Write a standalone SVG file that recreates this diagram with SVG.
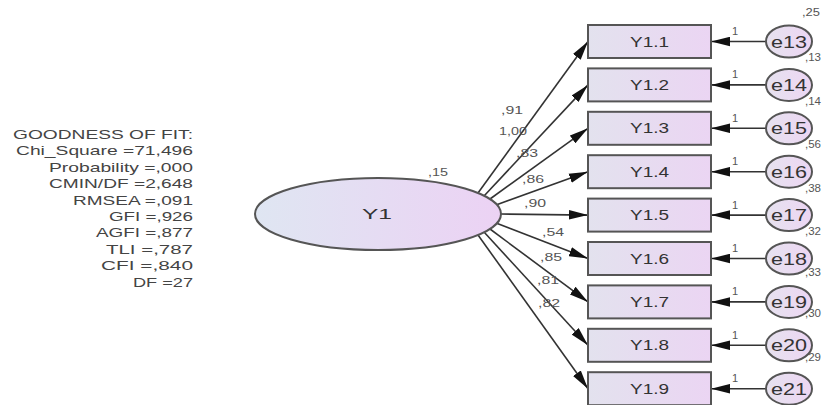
<svg xmlns="http://www.w3.org/2000/svg" width="822" height="405" viewBox="0 0 822 405">
<defs>
<linearGradient id="gRect" x1="0" x2="1" y1="0" y2="0"><stop offset="0" stop-color="#e3e2ee"/><stop offset="1" stop-color="#ebd5f3"/></linearGradient>
<linearGradient id="gMain" x1="0" x2="1" y1="0" y2="0"><stop offset="0" stop-color="#dfe6f2"/><stop offset="1" stop-color="#ecd2f4"/></linearGradient>
<linearGradient id="gErr" x1="0" x2="1" y1="0" y2="0"><stop offset="0" stop-color="#e6e2ef"/><stop offset="1" stop-color="#edd6f3"/></linearGradient>
<marker id="ah" viewBox="0 0 20 10" refX="20" refY="5" markerWidth="19" markerHeight="10" markerUnits="userSpaceOnUse" orient="auto"><path d="M0,0 L20,5 L0,10 z" fill="#111"/></marker>
<style>
.box{fill:url(#gRect);stroke:#555;stroke-width:2}
.err{fill:url(#gErr);stroke:#555;stroke-width:2}
.main{fill:url(#gMain);stroke:#555;stroke-width:2}
.t{font-family:"Liberation Sans",Arial,sans-serif;fill:#333}
.node{font-size:14px;text-anchor:middle}
.etx{font-size:17px;text-anchor:middle}
.fit{font-size:13.5px;text-anchor:end;fill:#444}
.sm{font-size:11px;fill:#555}
.edge{stroke:#333;stroke-width:1.6;fill:none;marker-end:url(#ah)}
</style>
</defs>
<rect width="822" height="405" fill="#fff"/>

<g id="fit">
<text class="t fit" x="193" y="139" textLength="180" lengthAdjust="spacingAndGlyphs">GOODNESS OF FIT:</text>
<text class="t fit" x="193" y="155.4" textLength="177" lengthAdjust="spacingAndGlyphs">Chi_Square =71,496</text>
<text class="t fit" x="193" y="171.8" textLength="144" lengthAdjust="spacingAndGlyphs">Probability =,000</text>
<text class="t fit" x="193" y="188.2" textLength="144" lengthAdjust="spacingAndGlyphs">CMIN/DF =2,648</text>
<text class="t fit" x="193" y="204.6" textLength="120" lengthAdjust="spacingAndGlyphs">RMSEA =,091</text>
<text class="t fit" x="193" y="221" textLength="84" lengthAdjust="spacingAndGlyphs">GFI =,926</text>
<text class="t fit" x="193" y="237.4" textLength="97" lengthAdjust="spacingAndGlyphs">AGFI =,877</text>
<text class="t fit" x="193" y="253.8" textLength="87" lengthAdjust="spacingAndGlyphs">TLI =,787</text>
<text class="t fit" x="193" y="270.2" textLength="92" lengthAdjust="spacingAndGlyphs">CFI =,840</text>
<text class="t fit" x="193" y="286.6" textLength="60" lengthAdjust="spacingAndGlyphs">DF =27</text>
</g>

<g id="connectors">
<line class="edge" x1="478" y1="193" x2="588" y2="41.5"/>
<line class="edge" x1="484" y1="196" x2="588" y2="84.9"/>
<line class="edge" x1="490" y1="199" x2="588" y2="128.3"/>
<line class="edge" x1="496" y1="205" x2="588" y2="171.7"/>
<line class="edge" x1="501" y1="214" x2="588" y2="215.1"/>
<line class="edge" x1="496" y1="223" x2="588" y2="258.5"/>
<line class="edge" x1="490" y1="229" x2="588" y2="301.9"/>
<line class="edge" x1="484" y1="232" x2="588" y2="345.3"/>
<line class="edge" x1="478" y1="235" x2="588" y2="388.7"/>
<line class="edge" x1="766" y1="41.5" x2="711" y2="41.5"/>
<line class="edge" x1="766" y1="84.9" x2="711" y2="84.9"/>
<line class="edge" x1="766" y1="128.3" x2="711" y2="128.3"/>
<line class="edge" x1="766" y1="171.7" x2="711" y2="171.7"/>
<line class="edge" x1="766" y1="215.1" x2="711" y2="215.1"/>
<line class="edge" x1="766" y1="258.5" x2="711" y2="258.5"/>
<line class="edge" x1="766" y1="301.9" x2="711" y2="301.9"/>
<line class="edge" x1="766" y1="345.3" x2="711" y2="345.3"/>
<line class="edge" x1="766" y1="388.7" x2="711" y2="388.7"/>
<g class="t sm">
<text x="501" y="114" textLength="22" lengthAdjust="spacingAndGlyphs">,91</text>
<text x="499" y="135" textLength="28" lengthAdjust="spacingAndGlyphs">1,00</text>
<text x="516" y="157" textLength="22" lengthAdjust="spacingAndGlyphs">,83</text>
<text x="522" y="183" textLength="22" lengthAdjust="spacingAndGlyphs">,86</text>
<text x="524" y="207" textLength="22" lengthAdjust="spacingAndGlyphs">,90</text>
<text x="542" y="236" textLength="22" lengthAdjust="spacingAndGlyphs">,54</text>
<text x="540" y="261" textLength="22" lengthAdjust="spacingAndGlyphs">,85</text>
<text x="537" y="284" textLength="22" lengthAdjust="spacingAndGlyphs">,81</text>
<text x="538" y="307" textLength="22" lengthAdjust="spacingAndGlyphs">,82</text>
<text x="732" y="35">1</text>
<text x="732" y="78.4">1</text>
<text x="732" y="121.8">1</text>
<text x="732" y="165.2">1</text>
<text x="732" y="208.6">1</text>
<text x="732" y="252">1</text>
<text x="732" y="295.4">1</text>
<text x="732" y="338.8">1</text>
<text x="732" y="382.2">1</text>
</g>
</g>

<g id="Y1">
<ellipse class="main" cx="378" cy="214" rx="123" ry="36"/>
<text class="t node" x="377" y="219" textLength="30" lengthAdjust="spacingAndGlyphs">Y1</text>
<text class="t sm" x="428" y="176" textLength="20" lengthAdjust="spacingAndGlyphs">,15</text>
</g>

<g id="Y1.1"><rect class="box" x="588" y="25" width="123" height="33"/><text class="t node" x="649.5" y="46.5" textLength="39" lengthAdjust="spacingAndGlyphs">Y1.1</text></g>
<g id="Y1.2"><rect class="box" x="588" y="68.4" width="123" height="33"/><text class="t node" x="649.5" y="89.9" textLength="39" lengthAdjust="spacingAndGlyphs">Y1.2</text></g>
<g id="Y1.3"><rect class="box" x="588" y="111.8" width="123" height="33"/><text class="t node" x="649.5" y="133.3" textLength="39" lengthAdjust="spacingAndGlyphs">Y1.3</text></g>
<g id="Y1.4"><rect class="box" x="588" y="155.2" width="123" height="33"/><text class="t node" x="649.5" y="176.7" textLength="39" lengthAdjust="spacingAndGlyphs">Y1.4</text></g>
<g id="Y1.5"><rect class="box" x="588" y="198.6" width="123" height="33"/><text class="t node" x="649.5" y="220.1" textLength="39" lengthAdjust="spacingAndGlyphs">Y1.5</text></g>
<g id="Y1.6"><rect class="box" x="588" y="242" width="123" height="33"/><text class="t node" x="649.5" y="263.5" textLength="39" lengthAdjust="spacingAndGlyphs">Y1.6</text></g>
<g id="Y1.7"><rect class="box" x="588" y="285.4" width="123" height="33"/><text class="t node" x="649.5" y="306.9" textLength="39" lengthAdjust="spacingAndGlyphs">Y1.7</text></g>
<g id="Y1.8"><rect class="box" x="588" y="328.8" width="123" height="33"/><text class="t node" x="649.5" y="350.3" textLength="39" lengthAdjust="spacingAndGlyphs">Y1.8</text></g>
<g id="Y1.9"><rect class="box" x="588" y="372.2" width="123" height="33"/><text class="t node" x="649.5" y="393.7" textLength="39" lengthAdjust="spacingAndGlyphs">Y1.9</text></g>

<g id="e13"><ellipse class="err" cx="789" cy="41.5" rx="23" ry="16"/><text class="t etx" x="789" y="47.5" textLength="36" lengthAdjust="spacingAndGlyphs">e13</text><text class="t sm" x="802" y="16" textLength="18" lengthAdjust="spacingAndGlyphs">,25</text></g>
<g id="e14"><ellipse class="err" cx="789" cy="84.9" rx="23" ry="16"/><text class="t etx" x="789" y="90.9" textLength="36" lengthAdjust="spacingAndGlyphs">e14</text><text class="t sm" x="805" y="61" textLength="16" lengthAdjust="spacingAndGlyphs">,13</text></g>
<g id="e15"><ellipse class="err" cx="789" cy="128.3" rx="23" ry="16"/><text class="t etx" x="789" y="134.3" textLength="36" lengthAdjust="spacingAndGlyphs">e15</text><text class="t sm" x="805" y="104.5" textLength="16" lengthAdjust="spacingAndGlyphs">,14</text></g>
<g id="e16"><ellipse class="err" cx="789" cy="171.7" rx="23" ry="16"/><text class="t etx" x="789" y="177.7" textLength="36" lengthAdjust="spacingAndGlyphs">e16</text><text class="t sm" x="805" y="148" textLength="16" lengthAdjust="spacingAndGlyphs">,56</text></g>
<g id="e17"><ellipse class="err" cx="789" cy="215.1" rx="23" ry="16"/><text class="t etx" x="789" y="221.1" textLength="36" lengthAdjust="spacingAndGlyphs">e17</text><text class="t sm" x="805" y="191.5" textLength="16" lengthAdjust="spacingAndGlyphs">,38</text></g>
<g id="e18"><ellipse class="err" cx="789" cy="258.5" rx="23" ry="16"/><text class="t etx" x="789" y="264.5" textLength="36" lengthAdjust="spacingAndGlyphs">e18</text><text class="t sm" x="805" y="235" textLength="16" lengthAdjust="spacingAndGlyphs">,32</text></g>
<g id="e19"><ellipse class="err" cx="789" cy="301.9" rx="23" ry="16"/><text class="t etx" x="789" y="307.9" textLength="36" lengthAdjust="spacingAndGlyphs">e19</text><text class="t sm" x="805" y="276" textLength="16" lengthAdjust="spacingAndGlyphs">,33</text></g>
<g id="e20"><ellipse class="err" cx="789" cy="345.3" rx="23" ry="16"/><text class="t etx" x="789" y="351.3" textLength="36" lengthAdjust="spacingAndGlyphs">e20</text><text class="t sm" x="805" y="317" textLength="16" lengthAdjust="spacingAndGlyphs">,30</text></g>
<g id="e21"><ellipse class="err" cx="789" cy="388.7" rx="23" ry="16"/><text class="t etx" x="789" y="394.7" textLength="36" lengthAdjust="spacingAndGlyphs">e21</text><text class="t sm" x="805" y="361" textLength="16" lengthAdjust="spacingAndGlyphs">,29</text></g>
</svg>
